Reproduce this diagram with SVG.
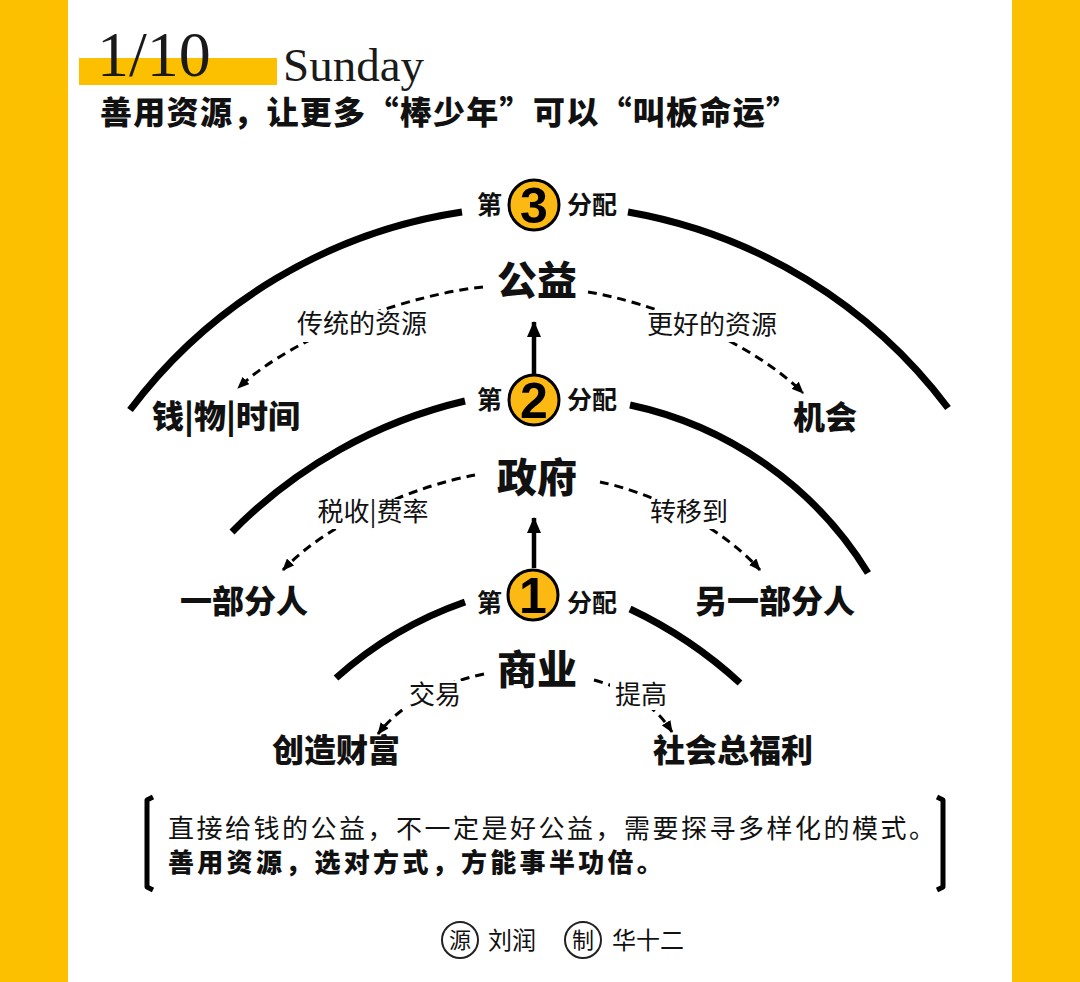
<svg xmlns="http://www.w3.org/2000/svg" width="1080" height="982" viewBox="0 0 1080 982">
<defs>
<style>
.cjk{font-family:"Noto Sans CJK SC","Noto Sans",sans-serif;fill:#111}
.big{font-size:40px;font-weight:900;text-anchor:middle}
.lbl{font-size:32px;font-weight:900}
.ord{font-size:25px;font-weight:700}
.edge{font-size:26px;font-weight:400;text-anchor:middle}
.arc{fill:none;stroke:#000;stroke-width:7}
.dash{fill:none;stroke:#000;stroke-width:3;stroke-dasharray:9 6}
.num{font-family:"Liberation Sans",Arial,sans-serif;font-weight:700;font-size:50px;text-anchor:middle;fill:#000}
.badge{fill:#FDB913;stroke:#000;stroke-width:3}
.serif{font-family:"Liberation Serif","Times New Roman",serif;fill:#1a1a1a}
.bg{fill:#fff}
</style>
<marker id="ah" viewBox="0 0 12 10" refX="11" refY="5" markerWidth="12" markerHeight="10" orient="auto" markerUnits="userSpaceOnUse"><path d="M0,0 L12,5 L0,10 z" fill="#000"/></marker>
<marker id="ahb" viewBox="0 0 16 14" refX="15" refY="7" markerWidth="16" markerHeight="14" orient="auto" markerUnits="userSpaceOnUse"><path d="M0,0 L16,7 L0,14 z" fill="#000"/></marker>
</defs>
<rect x="0" y="0" width="1080" height="982" fill="#FDC000"/>
<rect x="68" y="0" width="944" height="982" fill="#fff"/>

<g id="header">
<rect x="79" y="58" width="198" height="27" fill="#FDC000"/>
<text class="serif" x="97" y="76" font-size="64">1/10</text>
<text class="serif" x="283" y="81" font-size="47">Sunday</text>
<text class="cjk" x="100" y="124" font-size="32" font-weight="900" letter-spacing="1.3">善用资源，让更多“棒少年”可以“叫板命运”</text>
</g>

<g id="arcs">
<path class="arc" d="M130,410 A510,510 0 0 1 462,212"/>
<path class="arc" d="M628,212 A510,510 0 0 1 948,408"/>
<path class="arc" d="M232,532 A480,480 0 0 1 465,401"/>
<path class="arc" d="M630,405 A370,370 0 0 1 868,573"/>
<path class="arc" d="M336,678 A380,380 0 0 1 465,602"/>
<path class="arc" d="M630,609 A440,440 0 0 1 740,683"/>
</g>

<g id="connectors">
<path class="dash" d="M483,287 C420,293 300,330 238,388" marker-end="url(#ah)"/>
<path class="dash" d="M588,292 C650,302 750,340 803,393" marker-end="url(#ah)"/>
<path class="dash" d="M475,475 C420,485 330,520 283,570" marker-end="url(#ah)"/>
<path class="dash" d="M600,482 C650,492 720,525 760,570" marker-end="url(#ah)"/>
<path class="dash" d="M484,674 C440,683 400,705 378,734" marker-end="url(#ah)"/>
<path class="dash" d="M594,680 C630,690 655,705 672,732" marker-end="url(#ah)"/>
<path d="M534,374 V322" stroke="#000" stroke-width="4.5" fill="none" marker-end="url(#ahb)"/>
<path d="M534,568 V518" stroke="#000" stroke-width="4.5" fill="none" marker-end="url(#ahb)"/>
<rect class="bg" x="290" y="310" width="144" height="32"/>
<text class="cjk edge" x="362" y="333">传统的资源</text>
<rect class="bg" x="641" y="310" width="143" height="32"/>
<text class="cjk edge" x="712" y="334">更好的资源</text>
<rect class="bg" x="312" y="499" width="122" height="30"/>
<text class="cjk edge" x="373" y="521">税收|费率</text>
<rect class="bg" x="646" y="499" width="86" height="30"/>
<text class="cjk edge" x="689" y="521">转移到</text>
<rect class="bg" x="405" y="681" width="60" height="29"/>
<text class="cjk edge" x="435" y="704">交易</text>
<rect class="bg" x="610" y="681" width="62" height="29"/>
<text class="cjk edge" x="641" y="704">提高</text>
</g>

<g id="stage3">
<text class="cjk ord" x="477" y="214">第</text>
<circle class="badge" cx="534" cy="205" r="25"/>
<text class="num" x="534" y="223">3</text>
<text class="cjk ord" x="567" y="214">分配</text>
</g>
<g id="stage2">
<text class="cjk ord" x="477" y="409">第</text>
<circle class="badge" cx="534" cy="400" r="25"/>
<text class="num" x="534" y="418">2</text>
<text class="cjk ord" x="567" y="409">分配</text>
</g>
<g id="stage1">
<text class="cjk ord" x="477" y="612">第</text>
<circle class="badge" cx="533" cy="595" r="25"/>
<text class="num" x="533" y="613">1</text>
<text class="cjk ord" x="567" y="612">分配</text>
</g>

<g id="node-gongyi"><text class="cjk big" x="537" y="295">公益</text></g>
<g id="node-qianwu"><text class="cjk lbl" x="152" y="428">钱|物|时间</text></g>
<g id="node-jihui"><text class="cjk lbl" x="793" y="429">机会</text></g>
<g id="node-zhengfu"><text class="cjk big" x="537" y="492">政府</text></g>
<g id="node-yibufen"><text class="cjk lbl" x="180" y="613">一部分人</text></g>
<g id="node-lingyibufen"><text class="cjk lbl" x="695" y="613">另一部分人</text></g>
<g id="node-shangye"><text class="cjk big" x="537" y="684">商业</text></g>
<g id="node-chuangzao"><text class="cjk lbl" x="272" y="762">创造财富</text></g>
<g id="node-shehui"><text class="cjk lbl" x="653" y="762">社会总福利</text></g>

<g id="note">
<path d="M153,797 L147,800 V887 L153,890" fill="none" stroke="#000" stroke-width="5" stroke-linejoin="round"/>
<path d="M937,797 L943,800 V887 L937,890" fill="none" stroke="#000" stroke-width="5" stroke-linejoin="round"/>
<text class="cjk" x="168" y="838" font-size="26" letter-spacing="2.5">直接给钱的公益，不一定是好公益，需要探寻多样化的模式。</text>
<text class="cjk" x="168" y="872" font-size="26" font-weight="900" letter-spacing="3.3">善用资源，选对方式，方能事半功倍。</text>
</g>

<g id="footer">
<circle cx="460" cy="940" r="18" fill="none" stroke="#222" stroke-width="2"/>
<text class="cjk" x="460" y="948" font-size="22" text-anchor="middle">源</text>
<text class="cjk" x="488" y="949" font-size="24">刘润</text>
<circle cx="583" cy="940" r="18" fill="none" stroke="#222" stroke-width="2"/>
<text class="cjk" x="583" y="948" font-size="22" text-anchor="middle">制</text>
<text class="cjk" x="612" y="949" font-size="24">华十二</text>
</g>
</svg>
